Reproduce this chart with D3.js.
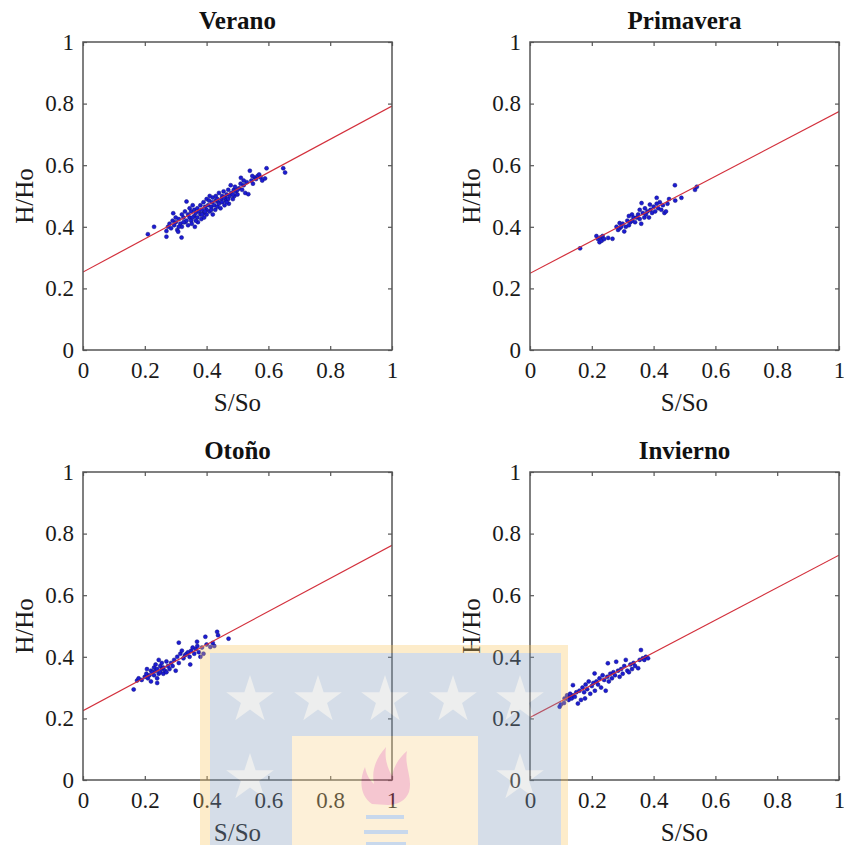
<!DOCTYPE html>
<html>
<head>
<meta charset="utf-8">
<script src="https://cdn.jsdelivr.net/npm/d3@7"></script>
<style>
  body { margin: 0; background: #fff; }
  svg { display: block; }
</style>
</head>
<body>
<svg id="chart" width="844" height="845"></svg>
<script>
// Seasonal Angstrom-Prescott fits: H/Ho against S/So
const seasons = ["Verano", "Primavera", "Otoño", "Invierno"];
const fitIntercepts = [0.253, 0.249, 0.225, 0.203];
const fitSlopes = [0.539, 0.525, 0.537, 0.527];
const tickValues = [0, 0.2, 0.4, 0.6, 0.8, 1];
const tickLabels = ["0", "0.2", "0.4", "0.6", "0.8", "1"];
const xTitle = "S/So";
const yTitle = "H/Ho";

// Daily observations [S/So, H/Ho] for each season
const verano = [
  [0.21,0.376],[0.23,0.40],[0.27,0.386],[0.27,0.368],[0.275,0.40],[0.28,0.41],[0.285,0.395],[0.29,0.42],
  [0.292,0.444],[0.295,0.405],[0.30,0.43],[0.30,0.415],[0.305,0.39],[0.308,0.384],[0.31,0.425],[0.315,0.41],
  [0.319,0.365],[0.32,0.44],[0.32,0.40],[0.325,0.43],[0.33,0.415],[0.33,0.45],[0.335,0.482],[0.335,0.42],
  [0.34,0.44],[0.34,0.405],[0.345,0.43],[0.345,0.46],[0.35,0.42],[0.35,0.45],[0.352,0.41],[0.355,0.47],
  [0.36,0.435],[0.36,0.455],[0.362,0.40],[0.365,0.445],[0.37,0.43],[0.37,0.46],[0.372,0.415],[0.375,0.45],
  [0.38,0.44],[0.38,0.47],[0.383,0.425],[0.385,0.455],[0.39,0.48],[0.39,0.445],[0.392,0.43],[0.395,0.465],
  [0.40,0.455],[0.40,0.49],[0.40,0.44],[0.405,0.47],[0.408,0.485],[0.41,0.45],[0.41,0.50],[0.415,0.465],
  [0.418,0.48],[0.42,0.44],[0.42,0.495],[0.425,0.47],[0.428,0.455],[0.43,0.485],[0.43,0.50],[0.435,0.465],
  [0.438,0.48],[0.44,0.51],[0.44,0.475],[0.445,0.46],[0.448,0.49],[0.45,0.50],[0.45,0.48],[0.455,0.515],
  [0.458,0.47],[0.46,0.495],[0.462,0.485],[0.465,0.505],[0.47,0.49],[0.47,0.52],[0.472,0.475],[0.475,0.50],
  [0.478,0.535],[0.48,0.51],[0.485,0.49],[0.488,0.52],[0.49,0.50],[0.492,0.53],[0.495,0.515],[0.50,0.505],
  [0.505,0.525],[0.51,0.54],[0.511,0.559],[0.515,0.52],[0.52,0.535],[0.525,0.51],[0.53,0.545],[0.535,0.506],
  [0.54,0.582],[0.545,0.55],[0.55,0.54],[0.555,0.56],[0.56,0.555],[0.565,0.565],[0.57,0.57],[0.575,0.56],
  [0.58,0.55],[0.589,0.557],[0.594,0.59],[0.648,0.59],[0.654,0.576],
  [0.31,0.40],[0.325,0.415],[0.355,0.43],[0.365,0.42],[0.385,0.44],[0.395,0.45],[0.415,0.455],[0.435,0.49],
  [0.455,0.495],[0.465,0.48],[0.485,0.505],[0.50,0.52],[0.52,0.55],[0.548,0.565]
];
const primavera = [
  [0.162,0.33],[0.215,0.37],[0.22,0.36],[0.225,0.35],[0.228,0.365],[0.232,0.355],[0.235,0.37],[0.24,0.36],
  [0.253,0.364],[0.267,0.361],[0.28,0.40],[0.285,0.39],[0.29,0.412],[0.29,0.395],[0.295,0.40],[0.30,0.41],
  [0.305,0.385],[0.31,0.40],[0.315,0.42],[0.32,0.405],[0.32,0.435],[0.325,0.415],[0.33,0.44],[0.33,0.42],
  [0.335,0.43],[0.34,0.415],[0.345,0.43],[0.35,0.44],[0.355,0.425],[0.355,0.455],[0.36,0.41],[0.361,0.477],
  [0.365,0.445],[0.37,0.43],[0.372,0.46],[0.375,0.44],[0.38,0.45],[0.385,0.43],[0.388,0.472],[0.39,0.455],
  [0.395,0.445],[0.40,0.465],[0.405,0.45],[0.41,0.494],[0.41,0.475],[0.415,0.46],[0.42,0.48],[0.425,0.455],
  [0.43,0.47],[0.435,0.445],[0.44,0.45],[0.445,0.475],[0.45,0.49],[0.469,0.535],[0.47,0.485],[0.49,0.494],
  [0.534,0.52],[0.54,0.53]
];
const otono = [
  [0.164,0.294],[0.175,0.323],[0.18,0.33],[0.19,0.325],[0.20,0.335],[0.205,0.345],[0.207,0.36],[0.21,0.33],
  [0.215,0.34],[0.22,0.355],[0.22,0.32],[0.225,0.35],[0.23,0.365],[0.23,0.34],[0.235,0.375],[0.235,0.355],
  [0.24,0.33],[0.24,0.36],[0.24,0.315],[0.245,0.39],[0.245,0.345],[0.25,0.37],[0.25,0.35],[0.255,0.36],
  [0.255,0.38],[0.26,0.345],[0.26,0.365],[0.265,0.355],[0.27,0.385],[0.27,0.35],[0.275,0.37],[0.28,0.36],
  [0.285,0.38],[0.29,0.37],[0.295,0.39],[0.30,0.355],[0.305,0.40],[0.31,0.446],[0.31,0.38],[0.315,0.41],
  [0.32,0.42],[0.325,0.395],[0.33,0.405],[0.335,0.41],[0.34,0.415],[0.345,0.40],[0.347,0.375],[0.35,0.42],
  [0.355,0.43],[0.36,0.41],[0.365,0.425],[0.369,0.449],[0.37,0.435],[0.375,0.415],[0.38,0.40],[0.385,0.43],
  [0.39,0.41],[0.396,0.465],[0.40,0.44],[0.412,0.432],[0.42,0.445],[0.425,0.435],[0.434,0.481],[0.437,0.47],
  [0.471,0.459]
];
const invierno = [
  [0.096,0.238],[0.10,0.245],[0.11,0.25],[0.112,0.265],[0.118,0.265],[0.12,0.275],[0.125,0.26],[0.128,0.27],
  [0.13,0.28],[0.135,0.265],[0.139,0.308],[0.14,0.275],[0.145,0.27],[0.15,0.285],[0.155,0.248],[0.16,0.29],
  [0.165,0.26],[0.17,0.30],[0.175,0.285],[0.178,0.265],[0.18,0.31],[0.185,0.295],[0.19,0.32],[0.195,0.28],
  [0.20,0.305],[0.205,0.315],[0.209,0.346],[0.21,0.29],[0.215,0.32],[0.22,0.31],[0.225,0.33],[0.23,0.30],
  [0.235,0.34],[0.24,0.325],[0.245,0.29],[0.25,0.335],[0.252,0.379],[0.255,0.32],[0.26,0.345],[0.265,0.33],
  [0.27,0.35],[0.275,0.34],[0.279,0.384],[0.285,0.355],[0.29,0.335],[0.295,0.36],[0.30,0.345],[0.305,0.37],
  [0.31,0.39],[0.315,0.355],[0.32,0.35],[0.325,0.375],[0.33,0.36],[0.335,0.38],[0.34,0.37],[0.35,0.363],
  [0.355,0.39],[0.359,0.422],[0.365,0.395],[0.37,0.39],[0.375,0.40],[0.382,0.395]
];
const seasonData = [verano, primavera, otono, invierno];

// Layout of the 2x2 grid of panels
const panelW = 309, panelH = 308;
const colLeft = [83, 530];
const rowTop = [42, 472];
const axisColor = "#555";
const textColor = "#1a1a1a";
const tickFont = 23;
const titleFont = 25;
const labelFont = 25;
const serif = '"Liberation Serif", "Times New Roman", serif';

const svg = d3.select("#chart");
const x = d3.scaleLinear().domain([0, 1]).range([0, panelW]);
const y = d3.scaleLinear().domain([0, 1]).range([panelH, 0]);
const fmt = (d, i) => tickLabels[i];

seasons.forEach((name, i) => {
  const left = colLeft[i % 2], top = rowTop[Math.floor(i / 2)];
  const g = svg.append("g").attr("transform", `translate(${left},${top})`);

  const clipId = "clip" + i;
  g.append("clipPath").attr("id", clipId)
    .append("rect").attr("width", panelW).attr("height", panelH);

  const plot = g.append("g").attr("clip-path", `url(#${clipId})`);

  // observations
  plot.selectAll("circle").data(seasonData[i]).join("circle")
    .attr("cx", d => x(d[0]))
    .attr("cy", d => y(d[1]))
    .attr("r", 2)
    .attr("fill", "#1c1cd4")
    .attr("stroke", "#12127e")
    .attr("stroke-width", 0.5);

  // fitted line
  const a = fitIntercepts[i], b = fitSlopes[i];
  plot.append("path")
    .datum([0, 1].map(s => [s, a + b * s]))
    .attr("d", d3.line().x(d => x(d[0])).y(d => y(d[1])))
    .attr("fill", "none")
    .attr("stroke", "#d3303c")
    .attr("stroke-width", 1.2);

  // axes with inward ticks on all four sides
  const styleAxis = sel => {
    sel.attr("font-size", null).attr("font-family", null).attr("color", axisColor);
    sel.select(".domain").remove();
    sel.selectAll(".tick line").attr("stroke-width", 1.2);
    sel.selectAll("text")
      .attr("fill", textColor)
      .style("font-family", serif)
      .style("font-size", tickFont + "px");
  };
  g.append("g").attr("transform", `translate(0,${panelH})`)
    .call(d3.axisBottom(x).tickValues(tickValues).tickFormat(fmt).tickSizeInner(-4).tickSizeOuter(0).tickPadding(12))
    .call(styleAxis);
  g.append("g")
    .call(d3.axisLeft(y).tickValues(tickValues).tickFormat(fmt).tickSizeInner(-4).tickSizeOuter(0).tickPadding(9))
    .call(styleAxis);
  g.append("g")
    .call(d3.axisTop(x).tickValues(tickValues).tickFormat("").tickSizeInner(-4).tickSizeOuter(0))
    .call(styleAxis);
  g.append("g").attr("transform", `translate(${panelW},0)`)
    .call(d3.axisRight(y).tickValues(tickValues).tickFormat("").tickSizeInner(-4).tickSizeOuter(0))
    .call(styleAxis);

  // box
  g.append("rect")
    .attr("width", panelW).attr("height", panelH)
    .attr("fill", "none").attr("stroke", axisColor).attr("stroke-width", 1.5);

  // titles
  g.append("text")
    .attr("x", panelW / 2).attr("y", -13)
    .attr("text-anchor", "middle")
    .style("font-family", serif)
    .style("font-size", titleFont + "px")
    .style("font-weight", "bold")
    .attr("fill", "#111")
    .text(name);
  g.append("text")
    .attr("x", panelW / 2).attr("y", panelH + 61)
    .attr("text-anchor", "middle")
    .style("font-family", serif)
    .style("font-size", labelFont + "px")
    .attr("fill", textColor)
    .text(xTitle);
  g.append("text")
    .attr("transform", `translate(-50,${panelH / 2}) rotate(-90)`)
    .attr("text-anchor", "middle")
    .style("font-family", serif)
    .style("font-size", labelFont + "px")
    .attr("fill", textColor)
    .text(yTitle);
});

// Translucent institutional watermark near the bottom centre
const wm = svg.append("g").attr("opacity", 0.33);
wm.append("rect").attr("x", 200).attr("y", 645).attr("width", 368).attr("height", 200).attr("fill", "rgb(249,198,98)");
wm.append("rect").attr("x", 210).attr("y", 653).attr("width", 351).attr("height", 192).attr("fill", "rgb(129,155,186)");
wm.append("rect").attr("x", 292).attr("y", 736).attr("width", 186).attr("height", 109).attr("fill", "rgb(249,212,138)");

const starPath = (cx, cy, R) => {
  const r = R * 0.382, pts = [];
  for (let k = 0; k < 10; k++) {
    const ang = -Math.PI / 2 + k * Math.PI / 5;
    const rad = k % 2 === 0 ? R : r;
    pts.push([cx + rad * Math.cos(ang), cy + rad * Math.sin(ang)]);
  }
  return "M" + pts.map(p => p.join(",")).join("L") + "Z";
};
[[250, 700], [318, 700], [385, 700], [453, 700], [520, 700], [250, 778], [520, 778]].forEach(([cx, cy]) => {
  wm.append("path").attr("d", starPath(cx, cy, 25)).attr("fill", "rgb(201,204,206)");
});
wm.append("path")
  .attr("d", "M372,804 C360,796 359,780 365,767 C367,777 371,781 374,784 C371,769 377,757 386,747 C384,761 389,770 392,776 C394,765 400,757 407,751 C404,766 413,778 409,792 C406,800 398,805 388,805 Z")
  .attr("fill", "rgb(226,86,115)");
[[366, 815, 38], [364, 830, 44], [366, 842, 40]].forEach(([bx, by, bw]) => {
  wm.append("rect").attr("x", bx).attr("y", by).attr("width", bw).attr("height", 4).attr("fill", "rgb(92,138,198)");
});
</script>
</body>
</html>
